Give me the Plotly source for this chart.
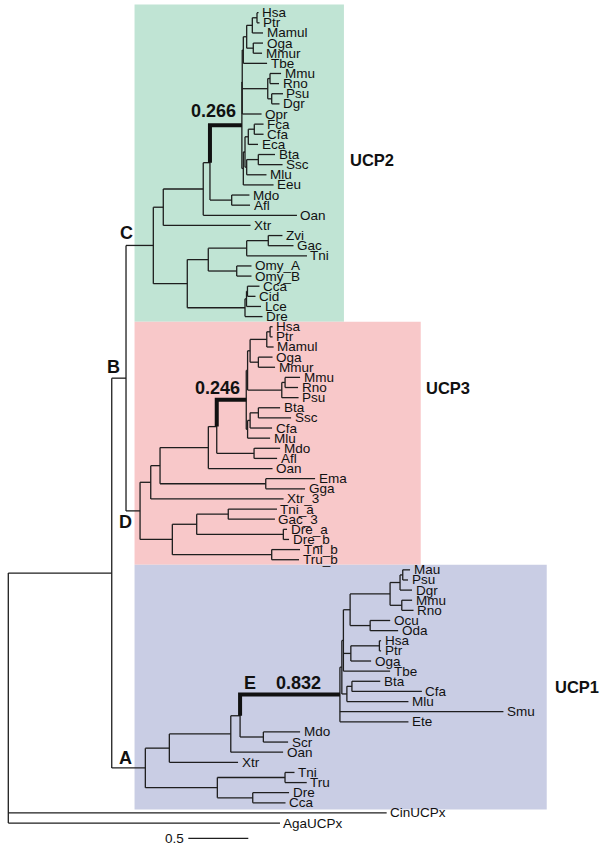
import plotly.graph_objects as go

# UCP gene tree, branch lengths (scale bar 0.5 = 60 px).
# Internal labels: eu2 / eu3 / E mark the eutherian stem branches.
ucp2_clade = (
    "((((((((((Hsa:0.013,Ptr:0.021):0.039,Mamul:0.089):0.047,"
    "(Oga:0.081,Mmur:0.073):0.055):0.028,Tbe:0.198):0.009,"
    "((Mmu:0.092,Rno:0.075):0.019,(Psu:0.094,Dgr:0.065):0.033):0.2125,"
    "Opr:0.161):0.003,"
    "((((Fca:0.077,Cfa:0.077):0.05,Eca:0.081):0.0275,"
    "((Bta:0.139,Ssc:0.202):0.097,Mlu:0.165):0.014):0.014,Eeu:0.252):0.012)"
    "eu2:0.266,(Mdo:0.148,Afl:0.153):0.181):0.056,Oan:0.781):0.333,"
    "Xtr:0.727):0.083,"
    "((((Zvi:0.118,Gac:0.21):0.18,Tni:0.5025):0.32,"
    "(Omy_A:0.123,Omy_B:0.123):0.237):0.175,"
    "(((Cca:0.1,Cid:0.067):0.008,Lce:0.121):0.0125,Dre:0.146):0.481):0.283)"
)

ucp3_clade = (
    "((((((((((Hsa:0.021,Ptr:0.021):0.0275,Mamul:0.057):0.139,"
    "(Oga:0.118,Mmur:0.139):0.069):0.021,"
    "((Mmu:0.125,Rno:0.108):0.0275,Psu:0.14):0.285):0.011,"
    "(((Bta:0.181,Ssc:0.2725):0.069,Cfa:0.183):0.021,Mlu:0.1875):0.011)"
    "eu3:0.246,(Mdo:0.217,Afl:0.192):0.311):0.07,Oan:0.535):0.4025,"
    "(Ema:0.411,Gga:0.3275):0.881):0.0775,Xtr_3:1.107):0.089,"
    "(((Tni_a:0.406,Gac_3:0.389):0.263,(Dre_a:0.031,Dre_b:0.0475):0.722):0.203,"
    "(Tni_b:0.236,Tru_b:0.2275):0.828):0.269)"
)

ucp1_clade = (
    "(((((((((((Mau:0.061,Psu:0.044):0.0225,Dgr:0.1):0.083,"
    "(Mmu:0.086,Rno:0.098):0.0975):0.333,(Ocu:0.167,Oda:0.233):0.167):0.056,"
    "((Hsa:0.014,Ptr:0.014):0.238,Oga:0.169):0.062,Tbe:0.389):0.013,"
    "((Bta:0.236,Cfa:0.583):0.042,Mlu:0.513):0.042):0.016,"
    "Smu:1.3625,Ete:0.571)E:0.832,(Mdo:0.306,Scr:0.206):0.194):0.0775,"
    "Oan:0.436):0.512,Xtr:0.5725):0.2,"
    "((Tni:0.079,Tru:0.181):0.564,(Dre:0.3025,Cca:0.273):0.295):0.6)"
)

backbone_lengths = {"C": 0.2275, "D": 0.117, "B": 0.119, "A": 0.28,
                    "ingroup": 0.862, "CinUCPx": 3.153, "AgaUCPx": 2.264}

clade_nodes = ["C", "D", "A"]
clade_names = ["UCP2", "UCP3", "UCP1"]
clade_colors = ["rgb(192,228,212)", "rgb(248,200,201)", "rgb(201,205,228)"]
highlight_values = {"eu2": "0.266", "eu3": "0.246", "E": "0.832"}
scale_bar = 0.5

L = backbone_lengths
newick = (
    f"((({ucp2_clade}C:{L['C']},{ucp3_clade}D:{L['D']})B:{L['B']},"
    f"{ucp1_clade}A:{L['A']})ingroup:{L['ingroup']},"
    f"CinUCPx:{L['CinUCPx']},AgaUCPx:{L['AgaUCPx']});"
)


def parse_newick(text):
    pos = 0

    def read_node():
        nonlocal pos
        node = {"name": "", "length": 0.0, "children": []}
        if text[pos] == "(":
            pos += 1
            node["children"].append(read_node())
            while text[pos] == ",":
                pos += 1
                node["children"].append(read_node())
            assert text[pos] == ")"
            pos += 1
        start = pos
        while text[pos] not in ":,();":
            pos += 1
        node["name"] = text[start:pos]
        if text[pos] == ":":
            pos += 1
            start = pos
            while text[pos] not in ",();":
                pos += 1
            node["length"] = float(text[start:pos])
        return node

    root = read_node()
    assert text[pos] == ";"
    return root


tree = parse_newick(newick)
leaves = []
named = {}


def layout(node, x0, parent):
    node["x"] = x0 + node["length"]
    node["parent"] = parent
    if node["name"]:
        named.setdefault(node["name"], node)
    if node["children"]:
        for child in node["children"]:
            layout(child, node["x"], node)
        node["y"] = (node["children"][0]["y"] + node["children"][-1]["y"]) / 2
        node["first"] = node["children"][0]["first"]
        node["last"] = node["children"][-1]["last"]
    else:
        node["y"] = len(leaves)
        node["first"] = node["last"] = len(leaves)
        leaves.append(node)


tree["length"] = 0.0
layout(tree, 0.0, None)

# --- branch segments -------------------------------------------------------
xs, ys, hx, hy = [], [], [], []


def walk(node):
    if node["parent"] is not None:
        xs.extend([node["parent"]["x"], node["x"], None])
        ys.extend([node["y"], node["y"], None])
        if node["name"] in highlight_values:
            p = node["parent"]
            hx.extend([p["x"], p["x"], node["x"], None])
            hy.extend([p["y"], node["y"], node["y"], None])
    if node["children"]:
        xs.extend([node["x"], node["x"], None])
        ys.extend([node["children"][0]["y"], node["children"][-1]["y"], None])
        for child in node["children"]:
            walk(child)


walk(tree)

fig = go.Figure()

# coloured clade boxes
box_right = [2.797, 3.437, 4.487]
for i, (cn, col) in enumerate(zip(clade_nodes, clade_colors)):
    n = named[cn]
    top = n["first"] - (0.81 if i == 0 else 0.5)
    bottom = n["last"] + (0.66 if i == 2 else 0.5)
    fig.add_shape(type="rect", x0=1.052, x1=box_right[i], y0=top, y1=bottom,
                  fillcolor=col, line_width=0, layer="below")

fig.add_trace(go.Scatter(x=xs, y=ys, mode="lines", hoverinfo="skip",
                         line=dict(color="#1e1e1e", width=1.3), showlegend=False))
fig.add_trace(go.Scatter(x=hx, y=hy, mode="lines", hoverinfo="skip",
                         line=dict(color="#111111", width=4), showlegend=False))

# scale bar
fig.add_trace(go.Scatter(x=[1.5, 1.5 + scale_bar], y=[81.5, 81.5], mode="lines",
                         line=dict(color="#1e1e1e", width=1.3), showlegend=False,
                         hoverinfo="skip"))

font_tip = dict(family="Liberation Sans, Arial, sans-serif", size=13.5, color="#111")
font_bold = dict(family="Liberation Sans, Arial, sans-serif", size=18, color="#111")

annotations = []
for leaf in leaves:
    annotations.append(dict(x=leaf["x"], y=leaf["y"], text=leaf["name"], showarrow=False,
                            xanchor="left", yanchor="middle", xshift=1.5, font=font_tip))

annotations.append(dict(x=1.5, y=81.5, text=str(scale_bar), showarrow=False,
                        xanchor="right", yanchor="middle", xshift=-2, font=font_tip))

# node letters and stem-branch values (offsets in px from the branch start)
letter_offsets = {"A": (14, 10), "B": (1.5, 11.5), "C": (0, 12.5),
                  "D": (-1, -11.5), "E": (10, 11.5)}
for name, (dx, dy) in letter_offsets.items():
    n = named[name]
    annotations.append(dict(x=n["parent"]["x"], y=n["y"], text=f"<b>{name}</b>",
                            showarrow=False, xanchor="center", yanchor="middle",
                            xshift=dx, yshift=dy, font=font_bold))

value_offsets = {"eu2": (3.5, 14), "eu3": (0.6, 11.7), "E": (58.3, 11.5)}
for name, (dx, dy) in value_offsets.items():
    n = named[name]
    annotations.append(dict(x=n["parent"]["x"], y=n["y"], text=f"<b>{highlight_values[name]}</b>",
                            showarrow=False, xanchor="center", yanchor="middle",
                            xshift=dx, yshift=dy, font=font_bold))

# clade names to the right of the boxes
clade_label_pos = [(348, 160), (424, 388), (553, 687)]
for name, (px, py) in zip(clade_names, clade_label_pos):
    annotations.append(dict(x=px / 600, y=1 - py / 852, xref="paper", yref="paper",
                            text=f"<b>{name}</b>", showarrow=False, xanchor="left",
                            yanchor="middle", font=dict(family=font_bold["family"],
                                                        size=16.5, color="#111")))

fig.update_layout(
    width=600, height=852,
    margin=dict(l=0, r=0, t=0, b=0),
    paper_bgcolor="white", plot_bgcolor="white",
    annotations=annotations,
    xaxis=dict(range=[-8.3 / 120, 591.7 / 120], visible=False, fixedrange=True),
    yaxis=dict(range=[(852 - 12.7) / 10.13, -12.7 / 10.13], visible=False, fixedrange=True),
)

# the page's default body margin would push the 600x852 figure off the window
fig.write_html("out.html", config={"displayModeBar": False},
               post_script="document.body.style.margin = '0';")
